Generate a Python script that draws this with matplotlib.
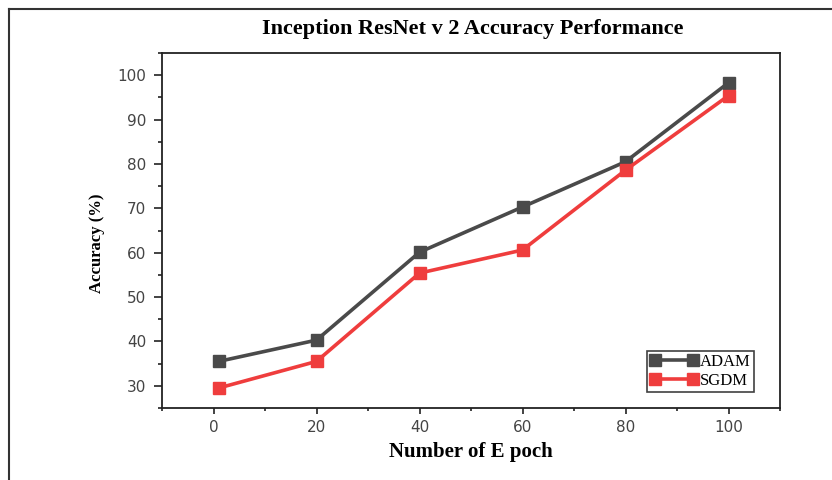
import matplotlib
matplotlib.use("Agg")
import matplotlib.pyplot as plt
from matplotlib.lines import Line2D
from matplotlib.ticker import MultipleLocator

# Accuracy per training epoch for the two optimizers
epochs = [1, 20, 40, 60, 80, 100]
adam_acc = [35.5, 40.3, 60.1, 70.3, 80.5, 98.3]
sgdm_acc = [29.5, 35.5, 55.4, 60.6, 78.6, 95.4]

x_ticks = [0, 20, 40, 60, 80, 100]
y_ticks = [30, 40, 50, 60, 70, 80, 90, 100]

title = "Inception ResNet v 2 Accuracy Performance"
x_label = "Number of E poch"
y_label = "Accuracy (%)"

serif = "Liberation Serif"

fig = plt.figure(figsize=(8.32, 4.8), dpi=100)
ax = fig.add_axes([162 / 832, 1 - 408 / 480, (780 - 162) / 832, (408 - 53) / 480])

ax.plot(epochs, adam_acc, color="#4a4a4a", lw=2.6, marker="s", ms=8,
        label="ADAM", zorder=3)
ax.plot(epochs, sgdm_acc, color="#ef3d3d", lw=2.6, marker="s", ms=8,
        label="SGDM", zorder=3)

ax.set_xlim(-10, 110)
ax.set_ylim(25, 105)
ax.set_xticks(x_ticks)
ax.set_yticks(y_ticks)
ax.xaxis.set_minor_locator(MultipleLocator(10))
ax.yaxis.set_minor_locator(MultipleLocator(5))

ax.tick_params(axis="both", which="both", direction="out", colors="#222222",
               labelcolor="#444444", labelsize=11, width=1.2)
ax.tick_params(axis="y", which="major", length=6, pad=5.5)
ax.tick_params(axis="y", which="minor", length=3)
ax.tick_params(axis="x", which="major", length=4, pad=5)
ax.tick_params(axis="x", which="minor", length=2)
ax.tick_params(top=False, right=False, which="both")
for sp in ax.spines.values():
    sp.set_linewidth(1.3)
    sp.set_color("#222222")

ax.set_xlabel(x_label, fontfamily=serif, fontweight="bold", fontsize=15)
ax.xaxis.set_label_coords(0.5, -(452 - 408) / 355, transform=ax.transAxes)
ax.xaxis.label.set_va("center")
ax.set_ylabel(y_label, fontfamily=serif, fontweight="bold", fontsize=12)
ax.yaxis.set_label_coords(-(162 - 97) / 618, (408 - 243) / 355,
                          transform=ax.transAxes)
ax.yaxis.label.set_va("center")
fig.text(473 / 832, 1 - 29 / 480, title,
         fontfamily=serif, fontweight="bold", fontsize=16,
         ha="center", va="center")

leg = ax.legend(loc="lower right", bbox_to_anchor=(0.958, 0.045),
                prop={"family": serif, "size": 12}, frameon=True,
                fancybox=False, numpoints=2, handlelength=2.9,
                handletextpad=0.1, borderpad=0.2, labelspacing=0.15,
                borderaxespad=0)
leg.get_frame().set_edgecolor("#111111")
leg.get_frame().set_linewidth(1.2)

# Outer frame around the figure
fig.add_artist(Line2D([8.5 / 832, 8.5 / 832], [0, 1 - 8.5 / 480],
                      transform=fig.transFigure, color="#333333", lw=1.5))
fig.add_artist(Line2D([8.5 / 832, 1], [1 - 8.5 / 480, 1 - 8.5 / 480],
                      transform=fig.transFigure, color="#333333", lw=1.5))

fig.savefig("out.png", dpi=100)
